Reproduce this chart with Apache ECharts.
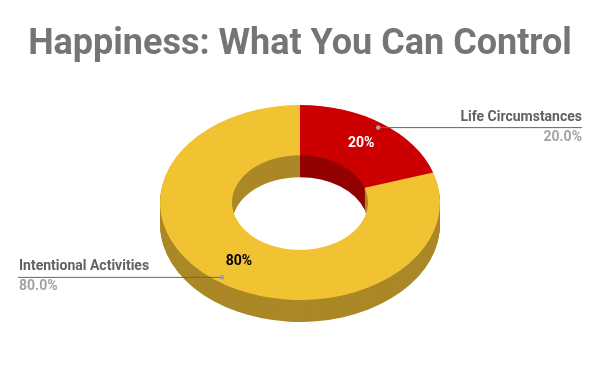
<!DOCTYPE html>
<html><head><meta charset="utf-8">
<script src="https://cdn.jsdelivr.net/npm/echarts@6/dist/echarts.min.js"></script>
<style>html,body{margin:0;padding:0;background:#fff}#c{width:600px;height:371px}</style>
</head><body><div id="c"></div>
<script>
const titleText = 'Happiness: What You Can Control';
const categories = ['Life Circumstances', 'Intentional Activities'];
const values = [20, 80];
const topColors = ['#cc0000', '#f1c232'];
const sideColors = ['#930000', '#ab8826'];
const insideLabelColors = ['#ffffff', '#000000'];

const CX = 300, CY = 202.5, RX = 140, RIN = 68, SY = 0.696, DEPTH = 22;
const FONT = 'Roboto, "Noto Sans", sans-serif';
const total = values.reduce((a, b) => a + b, 0);

function angles(i) {
  let s = 0;
  for (let k = 0; k < i; k++) s += values[k];
  const a0 = -Math.PI / 2 + s / total * 2 * Math.PI;
  const a1 = a0 + values[i] / total * 2 * Math.PI;
  return [a0, a1];
}
function sector(i, dy, color) {
  const [a0, a1] = angles(i);
  return {
    type: 'sector', x: 0, y: dy, originX: CX, originY: CY, scaleY: SY, silent: true,
    shape: { cx: CX, cy: CY, r: RX, r0: RIN, startAngle: a0, endAngle: a1, clockwise: true },
    style: { fill: color }
  };
}

function renderSide(params, api) {
  const i = params.dataIndex;
  const children = [];
  for (let d = DEPTH; d >= 1; d--) children.push(sector(i, d, sideColors[i]));
  return { type: 'group', children };
}

function renderTop(params, api) {
  const i = params.dataIndex;
  const v = api.value(0);
  const [a0, a1] = angles(i);
  const am = (a0 + a1) / 2;
  const c = Math.cos(am), s = Math.sin(am);
  const rMid = (RX + RIN) / 2;
  const pct = v / total * 100;
  const px = CX + 0.95 * RX * c, py = CY + 0.95 * RX * SY * s;
  const right = c >= 0;
  const ex = right ? 582 : 18;
  const tx = right ? 582 : 19;
  const align = right ? 'right' : 'left';
  return {
    type: 'group',
    children: [
      sector(i, 0, topColors[i]),
      { type: 'text', x: CX + rMid * c, y: CY + rMid * SY * s, z2: 20,
        style: { text: Math.round(pct) + '%', fill: insideLabelColors[i], font: 'bold 14px ' + FONT, align: 'center', verticalAlign: 'middle' } },
      { type: 'line', z2: 20, shape: { x1: px, y1: py, x2: ex, y2: py }, style: { stroke: '#666666', lineWidth: 1 } },
      { type: 'circle', z2: 21, shape: { cx: px, cy: py, r: 2.3 }, style: { fill: '#9e9e9e' } },
      { type: 'text', x: tx, y: py - 10.5, z2: 20,
        style: { text: categories[i], fill: '#616161', font: 'bold 14px ' + FONT, align: align, verticalAlign: 'middle' } },
      { type: 'text', x: tx, y: py + 9.5, z2: 20,
        style: { text: pct.toFixed(1) + '%', fill: '#a3a3a3', font: 'bold 14px ' + FONT, align: align, verticalAlign: 'middle' } }
    ]
  };
}

const chart = echarts.init(document.getElementById('c'), null, { renderer: 'canvas' });
chart.setOption({
  animation: false,
  backgroundColor: '#ffffff',
  title: {
    text: titleText, left: 'center', top: 22,
    textStyle: { fontFamily: 'Roboto', fontWeight: 'bold', fontSize: 36, color: '#757575' }
  },
  series: [
    { type: 'custom', coordinateSystem: 'none', z: 1, data: values.map(v => [v]), renderItem: renderSide },
    { type: 'custom', coordinateSystem: 'none', z: 2, data: values.map(v => [v]), renderItem: renderTop }
  ]
});
</script>
</body></html>
